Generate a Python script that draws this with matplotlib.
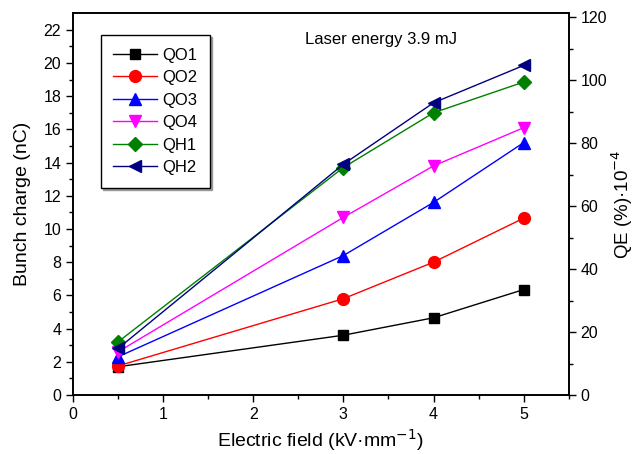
import numpy as np
import matplotlib as mpl
from matplotlib import pyplot as plt

plt.rcParams['font.family'] = ['Liberation Sans', 'DejaVu Sans']

field = [0.5, 3, 4, 5]
qo1 = [1.7, 3.6, 4.65, 6.35]
qo2 = [1.75, 5.8, 8.0, 10.65]
qo3 = [2.3, 8.4, 11.6, 15.2]
qo4 = [2.6, 10.7, 13.8, 16.1]
qh1 = [3.2, 13.7, 17.0, 18.85]
qh2 = [2.8, 13.9, 17.6, 19.85]

series = [
    ("QO1", qo1, "black", "s"),
    ("QO2", qo2, "red", "o"),
    ("QO3", qo3, "blue", "^"),
    ("QO4", qo4, "magenta", "v"),
    ("QH1", qh1, "green", "D"),
    ("QH2", qh2, "navy", "<"),
]

fig = plt.figure(figsize=(6.38, 4.54), dpi=100)
ax = fig.add_axes([0.1144, 0.130, 0.777, 0.841])

for name, vals, color, marker in series:
    ms = {"s": 7.5, "D": 7, "o": 8.5}.get(marker, 9)
    ax.plot(field, vals, color=color, marker=marker, markersize=ms, lw=1, label=name)

ax.set_xlim(0, 5.5)
ax.set_ylim(0, 23)
ax.set_xticks(np.arange(0, 6, 1))
ax.set_xticks(np.arange(0, 5.51, 0.5), minor=True)
ax.set_yticks(np.arange(0, 23, 2))
ax.set_yticks(np.arange(0, 23, 1), minor=True)
ax.tick_params(direction='out', length=5, width=1, labelsize=11.5, top=False, right=False)
ax.tick_params(which='minor', direction='out', length=3, width=1, top=False, right=False)
ax.set_xlabel("Electric field (kV·mm$^{-1}$)", fontsize=14, labelpad=4)
ax.set_ylabel("Bunch charge (nC)", fontsize=14, labelpad=9)

ax2 = ax.twinx()
ax2.set_ylim(0, 121.3)
ax2.set_yticks(np.arange(0, 121, 20))
ax2.set_yticks(np.arange(0, 121, 10), minor=True)
ax2.tick_params(direction='out', length=5, width=1, labelsize=11.5)
ax2.tick_params(which='minor', direction='out', length=3, width=1)
ax2.set_ylabel("QE (%)·10$^{-4}$", fontsize=13.5, labelpad=2)

for a in (ax, ax2):
    for s in a.spines.values():
        s.set_linewidth(1.2)

ax.text(0.469, 0.931, "Laser energy 3.9 mJ", transform=ax.transAxes, fontsize=12, ha='left', va='center')

leg = ax.legend(loc='upper left', bbox_to_anchor=(0.056, 0.942), fontsize=12, frameon=True,
                fancybox=False, shadow={'ox': 1.5, 'oy': -1.5, 'color': '0.6', 'alpha': 1},
                edgecolor='black', handlelength=2.6,
                handletextpad=0.35, labelspacing=0.45, borderpad=0.75, borderaxespad=0)
leg.get_frame().set_linewidth(1)

fig.savefig("out.png", dpi=100)
